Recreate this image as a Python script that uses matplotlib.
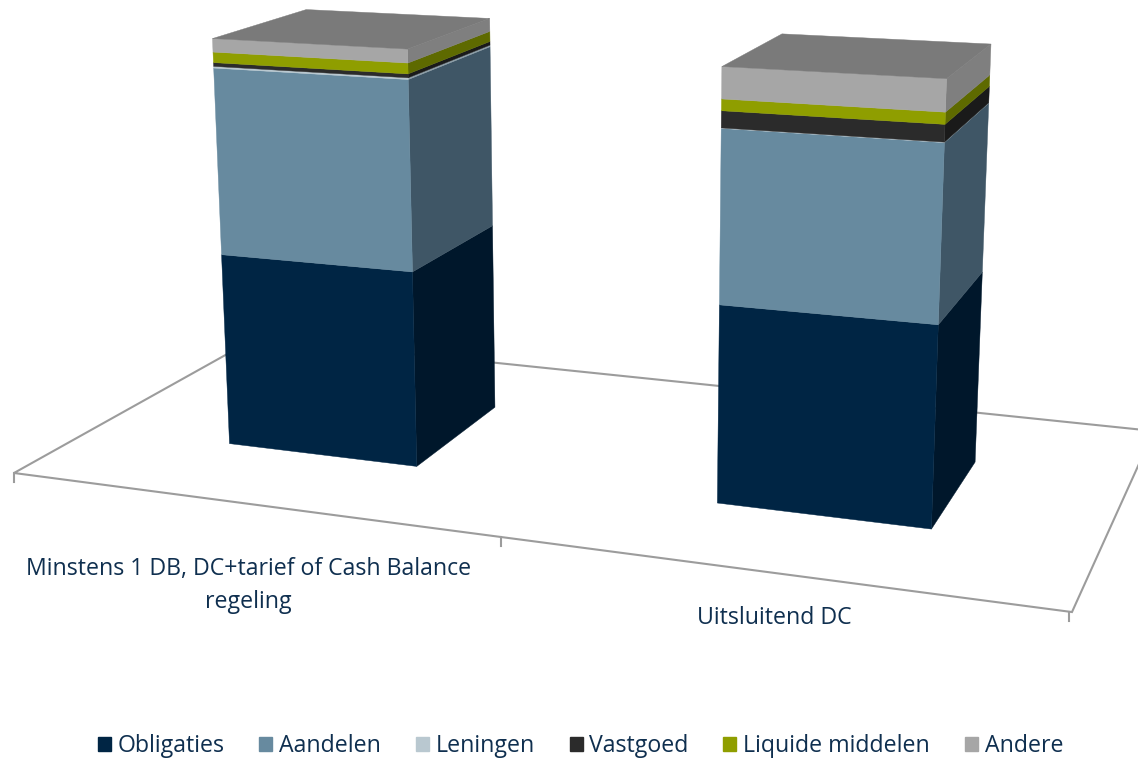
import numpy as np
import matplotlib
matplotlib.use("Agg")
import matplotlib.pyplot as plt
from matplotlib.patches import Patch, Polygon

# ---- data (percent of total) ----
categories = ["Minstens 1 DB, DC+tarief of Cash Balance\nregeling", "Uitsluitend DC"]
series_names = ["Obligaties", "Aandelen", "Leningen", "Vastgoed", "Liquide middelen", "Andere"]
obligaties = [47.7, 46.5]
aandelen = [45.3, 39.8]
leningen = [0.4, 0.1]
vastgoed = [0.9, 3.8]
liquide = [2.5, 2.6]
andere = [3.2, 7.1]
series_values = [obligaties, aandelen, leningen, vastgoed, liquide, andere]

# ---- style ----
front_colors = ["#002544", "#678A9F", "#B9C8D0", "#2B2B2B", "#8F9E00", "#A6A6A6"]
side_colors = ["#00172B", "#3F5666", "#8C9DA6", "#1A1A1A", "#5E6A00", "#7F7F7F"]
top_color = "#7A7A7A"
text_color = "#0F2F4F"
floor_color = "#9C9C9C"
font = "Open Sans"

# ---- camera: category position, depth, value (0-100) -> picture pixels ----
CAMERA = np.array([
    [445.75, 291.2, -26.8, 14.0],
    [22.0, -70.0, -420.5, 473.0],
    [-0.07765, 0.1924, -0.0431, 1.0],
])


def project(cat, depth, value):
    p = CAMERA @ np.array([cat, depth, value / 100.0, 1.0])
    return p[0] / p[2], p[1] / p[2]


fig = plt.figure(figsize=(11.38, 7.58), dpi=100)
ax = fig.add_axes([0, 0, 1, 1])
ax.set_xlim(0, 1138)
ax.set_ylim(758, 0)
ax.axis("off")

# floor
n = len(categories)
floor = [project(0, 0, 0), project(n, 0, 0), project(n, 1, 0), project(0, 1, 0)]
ax.add_patch(Polygon(floor, closed=True, fill=False, edgecolor=floor_color, lw=1.5, zorder=1))
tick_nudge = [0, 2.5, -3]
for k in range(n + 1):
    x, y = project(k, 0, 0)
    ax.plot([x + tick_nudge[k]] * 2, [y, y + 9], color=floor_color, lw=1.5, zorder=1)

# bars
bar_left = [0.305, 0.311]
bar_width = [0.405, 0.395]
depth_front, depth_back = 0.30, [0.70, 0.69]


def face(a, b, lo, hi, color):
    pts = [project(*a, lo), project(*b, lo), project(*b, hi), project(*a, hi)]
    ax.add_patch(Polygon(pts, closed=True, facecolor=color, edgecolor=color, lw=0.3, zorder=3))


for i in range(n):
    x0, x1 = i + bar_left[i], i + bar_left[i] + bar_width[i]
    back = depth_back[i]
    base = 0.0
    for j in range(len(series_values)):
        v = series_values[j][i]
        face((x1, depth_front), (x1, back), base, base + v, side_colors[j])
        face((x0, depth_front), (x1, depth_front), base, base + v, front_colors[j])
        base += v
    top = [project(x0, depth_front, base), project(x1, depth_front, base),
           project(x1, back, base), project(x0, back, base)]
    ax.add_patch(Polygon(top, closed=True, facecolor=top_color, edgecolor=top_color, lw=0.3, zorder=3))

# category labels
ax.text(248.5, 586, categories[0], ha="center", va="center", fontsize=16.7, color=text_color,
        family=font, linespacing=1.5)
ax.text(774, 618, categories[1], ha="center", va="center", fontsize=16.7, color=text_color, family=font)

# legend
handles = [Patch(facecolor=c, edgecolor=c, label=s) for c, s in zip(front_colors, series_names)]
fig.legend(handles=handles, loc="center", bbox_to_anchor=(580.5 / 1138, 1 - 746 / 758), ncol=6, frameon=False,
           prop={"family": font, "size": 16.7}, labelcolor=text_color,
           handlelength=0.56, handleheight=0.56, handletextpad=0.3, columnspacing=1.49,
           borderpad=0, borderaxespad=0)

fig.savefig("out.png", dpi=100)
